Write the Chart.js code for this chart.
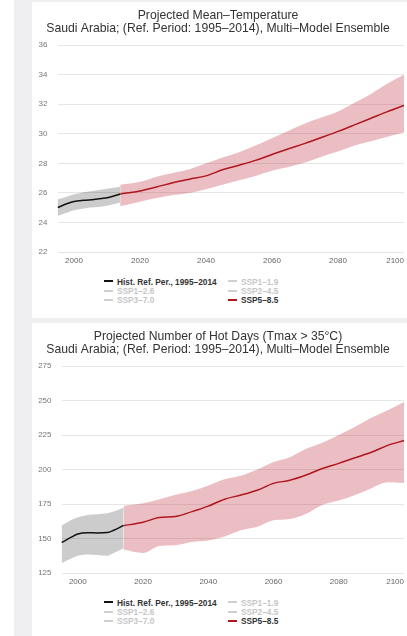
<!DOCTYPE html>
<html>
<head>
<meta charset="utf-8">
<script src="https://cdn.jsdelivr.net/npm/chart.js@4"></script>
<style>
  body { margin: 0; width: 407px; height: 636px; overflow: hidden; background: #fff; font-family: 'Liberation Sans', Arial, sans-serif; }
  #bg { position: absolute; left: 14px; top: 0; right: 0; bottom: 0; background: #efeff2; }
  .panel { position: absolute; left: 32px; width: 375px; height: 316px; background: #fff; overflow: hidden; }
  .panel canvas { display: block; }
  .legend { position: absolute; top: 275.6px; left: 72px; display: grid; grid-template-columns: 124px auto;
            font: bold 8.3px 'Liberation Sans', Arial, sans-serif; line-height: 9.4px; white-space: nowrap; }
  .legend span.sym { display: inline-block; width: 9px; height: 2px; margin-right: 4px; vertical-align: middle; position: relative; top: -1px; }
</style>
</head>
<body>
<div id="bg"></div>
<div class="panel" style="top:2px"><canvas id="chart-1" width="396" height="268"></canvas><div class="legend" id="legend-1"></div></div>
<div class="panel" style="top:323px"><canvas id="chart-2" width="396" height="268"></canvas><div class="legend" id="legend-2"></div></div>
<script>
// years
const histYears = [1995, 1998, 2000, 2003, 2006, 2009, 2011, 2014];
const futureYears = [2014, 2020, 2025, 2030, 2035, 2040, 2045, 2050, 2055, 2060, 2065, 2070, 2075, 2080, 2085, 2090, 2095, 2100];
const xTicks = [2000, 2020, 2040, 2060, 2080, 2100];

// mean temperature (°C)
const tempHistMedian = [25.0, 25.28, 25.42, 25.5, 25.55, 25.63, 25.72, 25.93];
const tempHistUpper  = [25.55, 25.75, 25.9, 26.05, 26.15, 26.25, 26.32, 26.42];
const tempHistLower  = [24.43, 24.68, 24.82, 24.95, 25.02, 25.1, 25.18, 25.35];
const tempSspMedian = [25.93, 26.13, 26.4, 26.69, 26.93, 27.15, 27.56, 27.87, 28.2, 28.6, 28.99, 29.35, 29.75, 30.16, 30.6, 31.05, 31.5, 31.92];
const tempSspUpper  = [26.55, 26.75, 27.1, 27.35, 27.6, 28.0, 28.4, 28.75, 29.2, 29.7, 30.2, 30.7, 31.1, 31.5, 32.1, 32.7, 33.4, 34.0];
const tempSspLower  = [25.1, 25.4, 25.65, 25.85, 26.0, 26.25, 26.55, 26.85, 27.15, 27.5, 27.75, 28.05, 28.45, 28.8, 29.2, 29.5, 29.8, 30.1];

// hot days (Tmax > 35°C)
const hotHistMedian = [147, 151, 153.3, 154.2, 154, 154.3, 156, 159.5];
const hotHistUpper  = [159.5, 163.5, 165.4, 167, 167.6, 168.3, 169.5, 172.5];
const hotHistLower  = [132, 135.5, 137.5, 138.5, 138, 137.5, 139.5, 143];
const hotSspMedian = [159.3, 161.8, 165.2, 166, 169.5, 173.5, 178.5, 181.5, 185, 190, 192.2, 196, 200.8, 204.5, 208.6, 212.5, 217.5, 221];
const hotSspUpper  = [173.5, 175.5, 178.5, 181.8, 184.5, 188.5, 193, 195.5, 200, 205.5, 209, 215, 219.5, 225, 231, 237.5, 243, 249];
const hotSspLower  = [142, 139.5, 144.5, 145.2, 147.5, 148.5, 151.5, 156, 158.5, 163.2, 164.2, 168, 174.3, 177.5, 181.5, 186.5, 190.8, 190.3];

const legendNames = ['Hist. Ref. Per., 1995–2014', 'SSP1–1.9', 'SSP1–2.6', 'SSP2–4.5', 'SSP3–7.0', 'SSP5–8.5'];

function pts(years, vals) {
  return years.map((x, i) => ({ x: x, y: vals[i] }));
}

function band(years, lower, upper, color) {
  const base = { pointRadius: 0, borderWidth: 0, cubicInterpolationMode: 'monotone', order: 2 };
  return [
    Object.assign({ label: '', data: pts(years, lower), fill: false }, base),
    Object.assign({ label: '', data: pts(years, upper), fill: '-1', backgroundColor: color }, base)
  ];
}

const htmlLegend = {
  id: 'htmlLegend',
  afterUpdate(chart) {
    const box = document.getElementById(chart.options.plugins.htmlLegend.containerID);
    box.innerHTML = '';
    const items = chart.options.plugins.legend.labels.generateLabels(chart).filter(it => it.text);
    const order = legendNames.map(n => items.find(it => it.text === n));
    order.forEach(it => {
      const row = document.createElement('div');
      const sym = document.createElement('span');
      sym.className = 'sym';
      sym.style.background = it.hidden ? '#cfcfcf' : it.strokeStyle;
      if (!it.hidden && it.text === 'SSP5–8.5') { sym.style.height = '2.5px'; }
      const txt = document.createElement('span');
      txt.textContent = it.text;
      txt.style.color = it.hidden ? '#c6c6c6' : '#333';
      row.appendChild(sym);
      row.appendChild(txt);
      box.appendChild(row);
    });
  }
};

function renderChart(canvasId, legendId, title, yMin, yMax, yStep, yWidth, d) {
  const datasets = [
    { label: legendNames[0], data: pts(histYears, d.histMedian), borderColor: '#111', borderWidth: 1.5,
      pointRadius: 0, cubicInterpolationMode: 'monotone', fill: false, order: 0 },
    { label: legendNames[5], data: pts(futureYears, d.sspMedian), borderColor: '#b0161e', borderWidth: 1.5,
      pointRadius: 0, cubicInterpolationMode: 'monotone', fill: false, order: 0 },
    ...band(histYears, d.histLower, d.histUpper, 'rgba(0, 0, 0, 0.2)'),
    ...band(futureYears, d.sspLower, d.sspUpper, 'rgba(190, 40, 55, 0.3)')
  ];
  [1, 2, 3, 4].forEach(i => {
    datasets.push({ label: legendNames[i], data: [], hidden: true, borderColor: '#cfcfcf', pointRadius: 0 });
  });

  const ctx = document.getElementById(canvasId).getContext('2d');
  new Chart(ctx, {
    type: 'line',
    data: { datasets: datasets },
    options: {
      responsive: false,
      animation: false,
      layout: { padding: { left: 0, right: 24, top: 0, bottom: 4.4 } },
      plugins: {
        legend: { display: false },
        tooltip: { enabled: false },
        htmlLegend: { containerID: legendId },
        title: {
          display: true,
          text: title,
          color: '#333',
          font: { family: "'Liberation Sans', Arial, sans-serif", size: 12.2, weight: 'normal', lineHeight: 1.07 },
          padding: { top: 7.5, bottom: 9.5 }
        }
      },
      scales: {
        x: {
          type: 'linear',
          min: 1995,
          max: 2100,
          afterBuildTicks: s => { s.ticks = xTicks.map(v => ({ value: v })); },
          afterFit: s => { s.height = 13.6; },
          grid: { display: false, drawTicks: false },
          border: { display: false },
          ticks: {
            color: '#666',
            padding: 4,
            maxRotation: 0,
            font: { family: "'Liberation Sans', Arial, sans-serif", size: 8 },
            callback: v => v === 2100 ? '2100        ' : String(v)
          }
        },
        y: {
          min: yMin,
          max: yMax,
          afterFit: s => { s.width = yWidth; },
          grid: { color: '#e6e6e6', drawTicks: false },
          border: { display: false },
          ticks: {
            stepSize: yStep,
            color: '#777',
            padding: 10,
            font: { family: "'Liberation Sans', Arial, sans-serif", size: 8 }
          }
        }
      }
    },
    plugins: [htmlLegend]
  });
}

renderChart('chart-1', 'legend-1',
  ['Projected Mean–Temperature', 'Saudi Arabia; (Ref. Period: 1995–2014), Multi–Model Ensemble'],
  22, 36, 2, 25.5,
  { histMedian: tempHistMedian, histUpper: tempHistUpper, histLower: tempHistLower,
    sspMedian: tempSspMedian, sspUpper: tempSspUpper, sspLower: tempSspLower });

renderChart('chart-2', 'legend-2',
  ['Projected Number of Hot Days (Tmax > 35°C)', 'Saudi Arabia; (Ref. Period: 1995–2014), Multi–Model Ensemble'],
  125, 275, 25, 29.5,
  { histMedian: hotHistMedian, histUpper: hotHistUpper, histLower: hotHistLower,
    sspMedian: hotSspMedian, sspUpper: hotSspUpper, sspLower: hotSspLower });
</script>
</body>
</html>
